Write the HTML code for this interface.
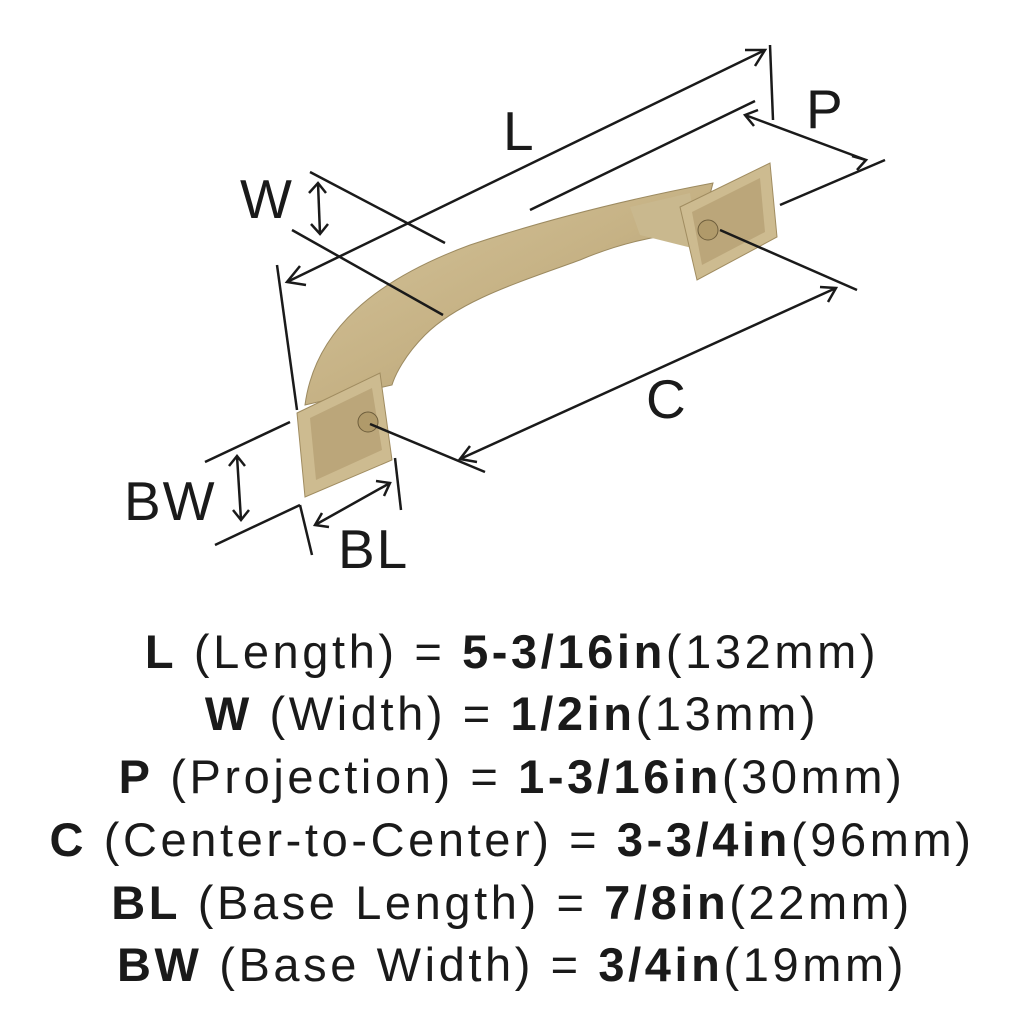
<!DOCTYPE html>
<html><head><style>
body{margin:0;width:1024px;height:1024px;background:#fff;overflow:hidden}
.t{position:absolute;left:0;width:1024px;text-align:center;font-family:"Liberation Sans",sans-serif;font-size:47px;letter-spacing:3.6px;color:#1a1a1a;line-height:1}
b{font-weight:bold}
</style></head><body>
<svg width="1024" height="1024" style="position:absolute;left:0;top:0">
<defs><linearGradient id="g" x1="0" y1="0" x2="1" y2="1"><stop offset="0" stop-color="#d6c59c"/><stop offset="0.5" stop-color="#c6b285"/><stop offset="1" stop-color="#a89368"/></linearGradient></defs>
<path d="M305,405 C315,330 375,280 470,245 C560,215 650,195 713,183 L700,232 C660,234 620,243 580,260 C520,282 460,300 425,335 C405,355 395,375 392,385 Z" fill="url(#g)" stroke="#9c8a60" stroke-width="1"/>
<path d="M630,207 L690,193 L700,250 L640,235 Z" fill="#c9b88e"/>
<path d="M297,413 L380,373 L392,460 L305,497 Z" fill="#cdbb90" stroke="#a08c60"/>
<path d="M310,418 L372,388 L382,450 L316,480 Z" fill="#bba67a"/>
<circle cx="368" cy="422" r="10" fill="#b09a6a" stroke="#6e5e3c"/>
<path d="M680,207 L770,163 L777,237 L697,280 Z" fill="#cdbb90" stroke="#a08c60"/>
<path d="M692,212 L760,178 L765,232 L702,265 Z" fill="#bba67a"/>
<circle cx="708" cy="230" r="10" fill="#b09a6a" stroke="#6e5e3c"/>
<g stroke="#1a1a1a" stroke-width="2.5" fill="none">
<line x1="287" y1="282" x2="765" y2="50"/>
<polyline points="300,266 287,282 306,285"/><polyline points="745,50 765,50 755,66"/>
<line x1="277" y1="265" x2="297" y2="410"/><line x1="770" y1="45" x2="773" y2="120"/>
<line x1="530" y1="210" x2="755" y2="101"/>
<line x1="745" y1="115" x2="866" y2="160"/>
<polyline points="758,110 745,115 754,126"/><polyline points="852,156 866,160 857,170"/>
<line x1="780" y1="205" x2="885" y2="160"/>
<line x1="310" y1="172" x2="445" y2="243"/><line x1="292" y1="230" x2="443" y2="315"/>
<line x1="318" y1="183" x2="320" y2="234"/>
<polyline points="309,193 318,183 326,193"/><polyline points="311,224 320,234 328,224"/>
<line x1="460" y1="459" x2="836" y2="288"/>
<polyline points="470,446 460,459 477,462"/><polyline points="820,287 836,288 828,302"/>
<line x1="370" y1="424" x2="485" y2="472"/><line x1="720" y1="230" x2="857" y2="290"/>
<line x1="205" y1="462" x2="290" y2="422"/><line x1="215" y1="545" x2="300" y2="505"/>
<line x1="237" y1="456" x2="241" y2="520"/>
<polyline points="229,466 237,456 245,466"/><polyline points="233,510 241,520 249,510"/>
<line x1="300" y1="505" x2="312" y2="555"/><line x1="395" y1="458" x2="401" y2="510"/>
<line x1="315" y1="525" x2="390" y2="483"/>
<polyline points="322,513 315,525 329,527"/><polyline points="376,481 390,483 384,496"/>
</g>
<g font-family="Liberation Sans,sans-serif" font-size="55" fill="#1a1a1a" letter-spacing="2">
<text x="503" y="150">L</text><text x="806" y="128">P</text><text x="240" y="218">W</text>
<text x="646" y="418">C</text><text x="124" y="520">BW</text><text x="338" y="568">BL</text>
</g>
</svg>
<div class="t" style="top:628px"><b>L</b> (Length) = <b>5-3/16in</b>(132mm)</div>
<div class="t" style="top:690px"><b>W</b> (Width) = <b>1/2in</b>(13mm)</div>
<div class="t" style="top:753px"><b>P</b> (Projection) = <b>1-3/16in</b>(30mm)</div>
<div class="t" style="top:816px"><b>C</b> (Center-to-Center) = <b>3-3/4in</b>(96mm)</div>
<div class="t" style="top:879px"><b>BL</b> (Base Length) = <b>7/8in</b>(22mm)</div>
<div class="t" style="top:941px"><b>BW</b> (Base Width) = <b>3/4in</b>(19mm)</div>
</body></html>
